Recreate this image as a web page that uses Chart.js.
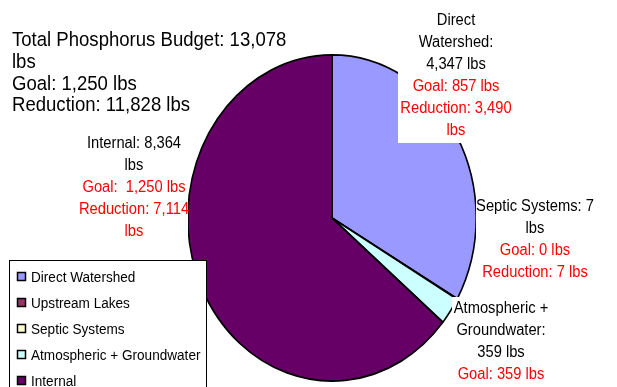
<!DOCTYPE html>
<html>
<head>
<meta charset="utf-8">
<script src="https://cdn.jsdelivr.net/npm/chart.js@4/dist/chart.umd.min.js"></script>
<style>
  html, body { margin: 0; padding: 0; background: #ffffff; }
  #wrap { position: relative; width: 617px; height: 387px; }
</style>
</head>
<body>
<div id="wrap"><canvas id="c" width="617" height="387"></canvas></div>
<script>
// Phosphorus sources (lbs / year)
const categories = ['Direct Watershed', 'Upstream Lakes', 'Septic Systems', 'Atmospheric + Groundwater', 'Internal'];
const loads      = [4347, 0, 7, 359, 8364];
const goals      = [857, null, 0, 359, 1250];
const reductions = [3490, null, 7, null, 7114];
const colors     = ['#9999FF', '#993366', '#FFFFCC', '#CCFFFF', '#660066'];

const totalBudget = 13078;
const totalGoal = 1250;
const totalReduction = 11828;

const fmt = v => v.toLocaleString('en-US');

const FONT = '"Liberation Sans", Arial, sans-serif';
const Y_STRETCH = 1.131;    // pie is drawn as an upright ellipse

// Slice annotations: black lines (source load) then red lines (goal / reduction)
const sliceNotes = {
  0: { x: 456, y: 25, box: [398, 0, 120, 143],
       black: ['Direct', 'Watershed:', `${fmt(loads[0])} lbs`],
       red:   [`Goal: ${fmt(goals[0])} lbs`, `Reduction: ${fmt(reductions[0])}`, 'lbs'] },
  4: { x: 134, y: 148, box: [74, 127, 114, 118],
       black: [`Internal: ${fmt(loads[4])}`, 'lbs'],
       red:   [`Goal:  ${fmt(goals[4])} lbs`, `Reduction: ${fmt(reductions[4])}`, 'lbs'] },
  2: { x: 535, y: 211, box: [476, 195, 125, 88],
       black: [`Septic Systems: ${fmt(loads[2])}`, 'lbs'],
       red:   [`Goal: ${fmt(goals[2])} lbs`, `Reduction: ${fmt(reductions[2])} lbs`] },
  3: { x: 501, y: 313, box: [452, 297, 100, 90],
       black: ['Atmospheric +', 'Groundwater:', `${fmt(loads[3])} lbs`],
       red:   [`Goal: ${fmt(goals[3])} lbs`] }
};

function drawText(ctx, str, x, y, size, color, align, squeeze) {
  ctx.save();
  ctx.translate(x, y);
  ctx.scale(squeeze, 1);
  ctx.font = `${size}px ${FONT}`;
  ctx.fillStyle = color;
  ctx.textAlign = align;
  ctx.textBaseline = 'alphabetic';
  ctx.fillText(str, 0, 0);
  ctx.restore();
}

// Stretch the pie vertically around its centre
const ellipsePlugin = {
  id: 'ellipsePie',
  beforeDatasetsDraw(chart) {
    const arc = chart.getDatasetMeta(0).data[0];
    const ctx = chart.ctx;
    ctx.save();
    ctx.translate(arc.x, arc.y);
    ctx.scale(1, Y_STRETCH);
    ctx.translate(-arc.x, -arc.y);
  },
  afterDatasetsDraw(chart) {
    chart.ctx.restore();
  }
};

// Title block, slice annotations and boxed legend
const annotationPlugin = {
  id: 'annotations',
  afterDraw(chart) {
    const ctx = chart.ctx;

    // title block
    const titleLines = [
      `Total Phosphorus Budget: ${fmt(totalBudget)}`,
      'lbs',
      `Goal: ${fmt(totalGoal)} lbs`,
      `Reduction: ${fmt(totalReduction)} lbs`
    ];
    titleLines.forEach((t, i) => drawText(ctx, t, 12, 46 + i * 21.8, 20.5, '#000000', 'left', 0.905));

    // slice notes on white panels
    Object.values(sliceNotes).forEach(n => {
      ctx.fillStyle = '#ffffff';
      ctx.fillRect(n.box[0], n.box[1], n.box[2], n.box[3]);
      let y = n.y;
      n.black.forEach(t => { drawText(ctx, t, n.x, y, 16, '#000000', 'center', 0.92); y += 22; });
      n.red.forEach(t => { drawText(ctx, t, n.x, y, 16, '#FF0000', 'center', 0.92); y += 22; });
    });

    // legend
    const lx = 9.5, ly = 260.5, lw = 197, lh = 140;
    ctx.save();
    ctx.fillStyle = '#ffffff';
    ctx.fillRect(lx, ly, lw, lh);
    ctx.strokeStyle = '#000000';
    ctx.lineWidth = 1;
    ctx.strokeRect(lx, ly, lw, lh);
    ctx.restore();
    const ds = chart.data.datasets[0];
    chart.data.labels.forEach((lab, i) => {
      const cy = 277 + i * 26;
      ctx.save();
      ctx.fillStyle = ds.backgroundColor[i];
      ctx.fillRect(17.5, cy - 4.5, 8, 8);
      ctx.strokeStyle = '#000000';
      ctx.lineWidth = 1.5;
      ctx.strokeRect(17.5, cy - 4.5, 8, 8);
      ctx.restore();
      drawText(ctx, lab, 31, cy + 5, 14, '#000000', 'left', 0.97);
    });
  }
};

new Chart(document.getElementById('c'), {
  type: 'pie',
  data: {
    labels: categories,
    datasets: [{
      data: loads,
      backgroundColor: colors,
      borderColor: '#000000',
      borderWidth: 1.6,
      clip: false
    }]
  },
  options: {
    responsive: false,
    animation: false,
    rotation: 0,
    layout: { padding: { left: 187, right: 140, top: 68, bottom: 19 } },
    plugins: {
      legend: { display: false },
      tooltip: { enabled: false },
      title: { display: false }
    }
  },
  plugins: [ellipsePlugin, annotationPlugin]
});
</script>
</body>
</html>
